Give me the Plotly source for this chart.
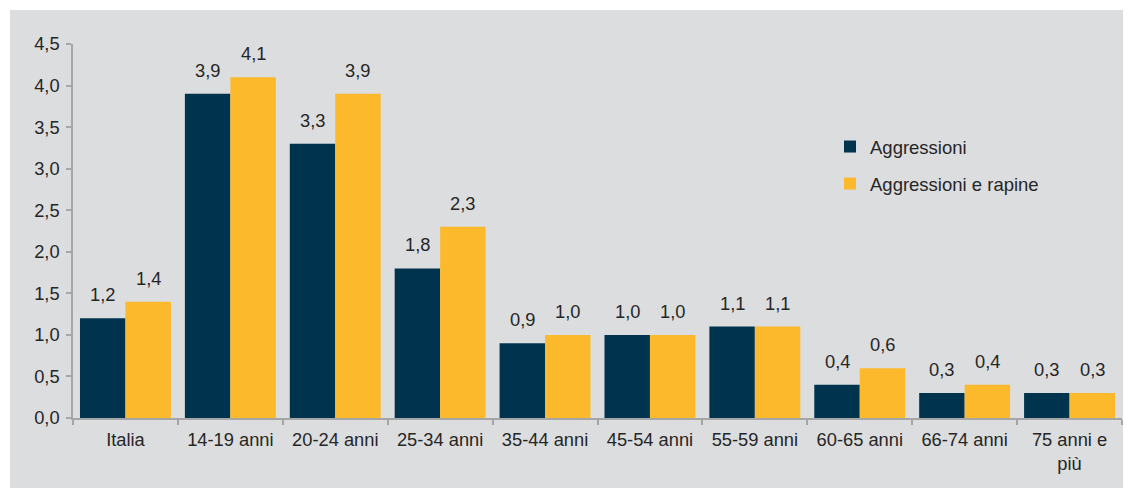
import plotly.graph_objects as go

categories = ["Italia", "14-19 anni", "20-24 anni", "25-34 anni", "35-44 anni",
              "45-54 anni", "55-59 anni", "60-65 anni", "66-74 anni", "75 anni e<br>più"]
aggressioni = [1.2, 3.9, 3.3, 1.8, 0.9, 1.0, 1.1, 0.4, 0.3, 0.3]
aggressioni_rapine = [1.4, 4.1, 3.9, 2.3, 1.0, 1.0, 1.1, 0.6, 0.4, 0.3]
series_names = ["Aggressioni", "Aggressioni e rapine"]
series_values = [aggressioni, aggressioni_rapine]
colors = ["#00344e", "#fbb92b"]
y_ticks = [0, 0.5, 1.0, 1.5, 2.0, 2.5, 3.0, 3.5, 4.0, 4.5]

OFF = 8  # page body margin
W, H = 1131 - OFF, 488 - OFF
ML, MR, MT, MB = 73 - OFF, 9, 44 - OFF, 70
PW, PH = W - ML - MR, H - MT - MB
FONT = "Liberation Sans, Arial, sans-serif"
TXT = "#262626"
AX = "#a6a6a6"
FS = 18.3

fig = go.Figure()
for name, vals, col in zip(series_names, series_values, colors):
    fig.add_trace(go.Bar(x=categories, y=vals, name=name, marker_color=col,
                         marker_line_width=0, legendgroup=name))

annotations = []
group_w = PW / len(categories)
bar_w = group_w * (1 - 0.133) / 2
for i, vals in enumerate(series_values):
    for c, v in zip(categories, vals):
        annotations.append(dict(
            x=c, y=v, xref="x", yref="y", text=f"{v:.1f}".replace(".", ","),
            showarrow=False, xshift=(i - 0.5) * bar_w, yshift=11, yanchor="bottom",
            font=dict(family=FONT, size=FS, color=TXT)))

fig.add_shape(type="rect", xref="paper", yref="paper",
              x0=(10 - OFF - ML) / PW, x1=(W - ML) / PW + 0.01,
              y0=-(MB + 5) / PH, y1=1 + (MT - (10 - OFF)) / PH,
              fillcolor="#dcdddf", line_width=0, layer="below")

fig.update_layout(
    width=W, height=H,
    margin=dict(l=ML, r=MR, t=MT, b=MB),
    paper_bgcolor="white", plot_bgcolor="rgba(0,0,0,0)",
    barmode="group", bargap=0.133, bargroupgap=0,
    separators=",.",
    font=dict(family=FONT, size=FS, color=TXT),
    annotations=annotations,
    showlegend=True,
    legend=dict(x=(830 - OFF - ML) / PW, y=1 - (128 - OFF - MT) / PH, xanchor="left", yanchor="top",
                bgcolor="rgba(0,0,0,0)", tracegroupgap=10, itemwidth=30,
                font=dict(family=FONT, size=18.5, color=TXT)),
    xaxis=dict(type="category", showline=True, linecolor=AX, linewidth=1.5,
               ticks="outside", tickson="boundaries", ticklen=5, tickcolor=AX,
               tickwidth=1.5, tickfont=dict(family=FONT, size=FS, color=TXT),
               ticklabelstandoff=4, showgrid=False),
    yaxis=dict(range=[0, 4.5], tickvals=y_ticks, tickformat=".1f",
               showline=True, linecolor=AX, linewidth=1.5,
               ticks="outside", ticklen=5, tickcolor=AX, tickwidth=1.5,
               tickfont=dict(family=FONT, size=FS, color=TXT),
               ticklabelstandoff=3, showgrid=False, zeroline=False),
)

fig.write_html("out.html")
